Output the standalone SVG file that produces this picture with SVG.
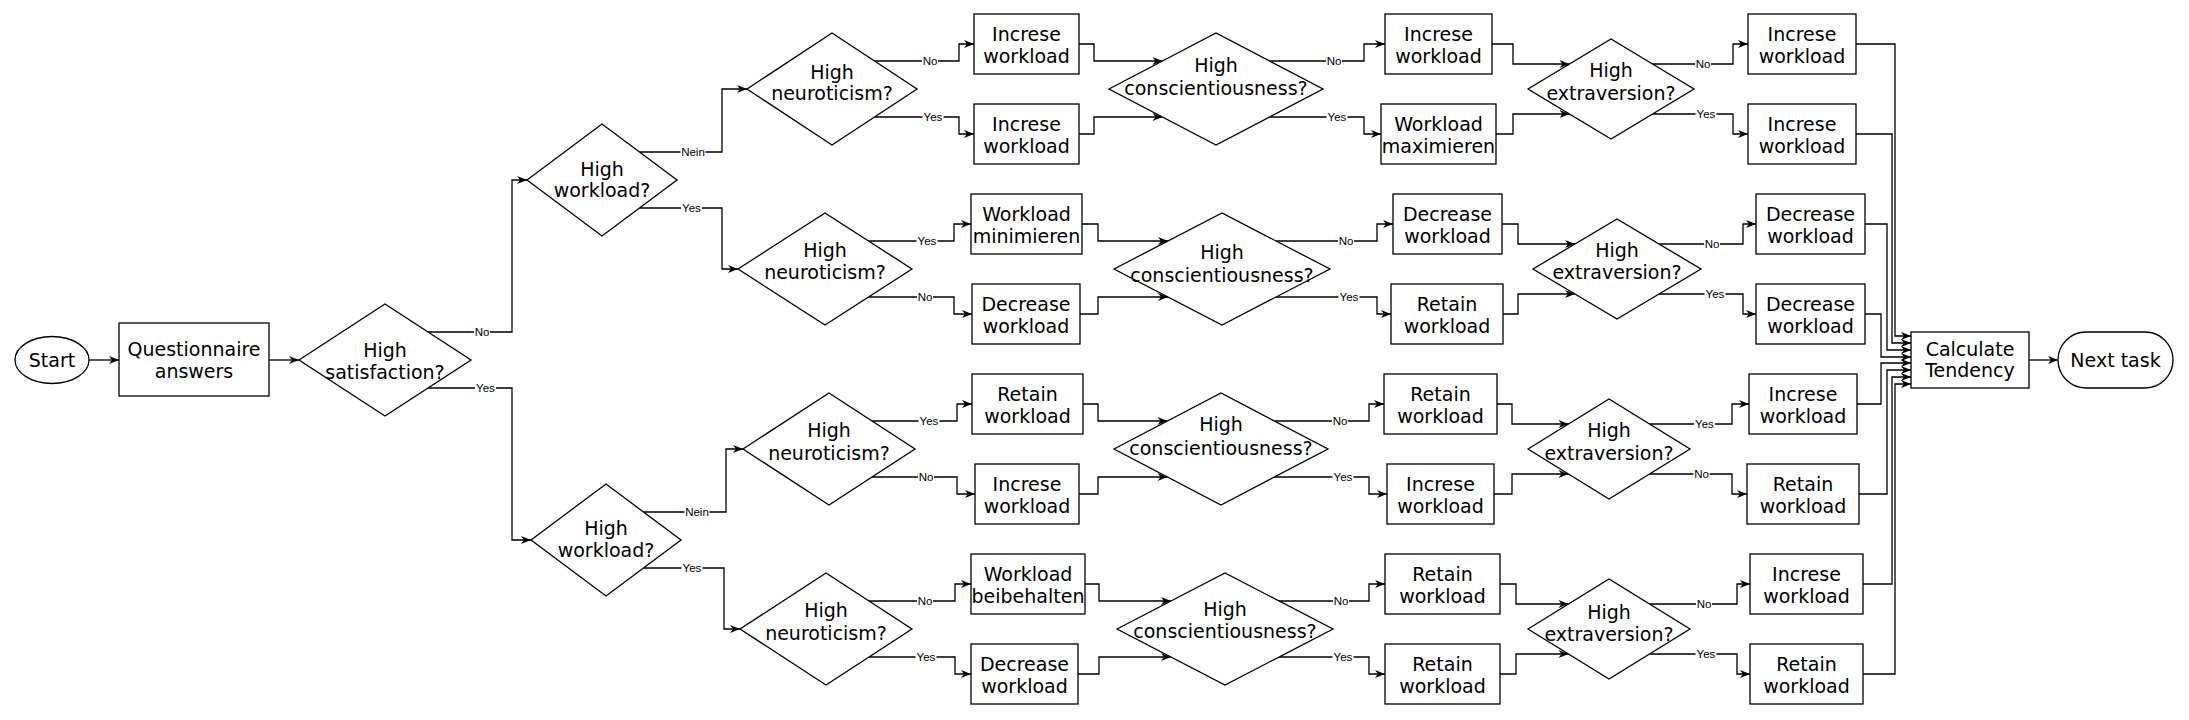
<svg xmlns="http://www.w3.org/2000/svg" width="2189" height="720" viewBox="0 0 2189 720">
<style>
.s{fill:#fff;stroke:#000;stroke-width:1.3}
.t{font-family:"DejaVu Sans",Verdana,sans-serif;font-size:19px;fill:#000;text-anchor:middle}
.c{fill:none;stroke:#000;stroke-width:1.3;marker-end:url(#arr)}
.l{font-family:"Liberation Sans",Arial,sans-serif;font-size:11.5px;fill:#000;text-anchor:middle}
.lb{fill:#fff;stroke:none}
</style>
<defs>
<marker id="arr" viewBox="0 0 10 8" refX="10" refY="4" markerWidth="11" markerHeight="8" markerUnits="userSpaceOnUse" orient="auto"><path d="M0,0 L10,4 L0,8 L3,4 Z" fill="#000"/></marker>
</defs>
<rect width="2189" height="720" fill="#fff"/>
<g id="connectors">
<path class="c" d="M89,360 H119"/>
<path class="c" d="M269,360 H299"/>
<path class="c" d="M2029,360 H2058"/>
<path class="c" d="M428,332 H512 V180 H527"/>
<path class="c" d="M428,388 H512 V540 H531"/>
<path class="c" d="M639.5,152 H722 V89 H747"/>
<path class="c" d="M639.5,208 H722 V269 H738"/>
<path class="c" d="M874.5,61 H959 V44 H974"/>
<path class="c" d="M874.5,117 H959 V134 H974"/>
<path class="c" d="M1079,44 H1094 V61 H1162.5"/>
<path class="c" d="M1079,134 H1094 V117 H1162.5"/>
<path class="c" d="M1269.5,61 H1364 V44 H1385"/>
<path class="c" d="M1269.5,117 H1364 V134 H1381"/>
<path class="c" d="M1492,44 H1513 V64 H1569.5"/>
<path class="c" d="M1496,134 H1513 V114 H1569.5"/>
<path class="c" d="M1652.5,64 H1733 V44 H1748"/>
<path class="c" d="M1652.5,114 H1733 V134 H1748"/>
<path class="c" d="M868.5,241 H954 V224 H971"/>
<path class="c" d="M868.5,297 H954 V314 H972"/>
<path class="c" d="M1082,224 H1098 V241 H1168"/>
<path class="c" d="M1080,314 H1098 V297 H1168"/>
<path class="c" d="M1276,241 H1377 V224 H1393"/>
<path class="c" d="M1276,297 H1377 V314 H1391"/>
<path class="c" d="M1502,224 H1518 V244 H1575"/>
<path class="c" d="M1503,314 H1518 V294 H1575"/>
<path class="c" d="M1659,244 H1743 V224 H1756"/>
<path class="c" d="M1659,294 H1743 V314 H1756"/>
<path class="c" d="M643.5,512 H726 V449 H743"/>
<path class="c" d="M872,421 H957 V404 H972"/>
<path class="c" d="M872,477 H957 V494 H975"/>
<path class="c" d="M1083,404 H1098 V421 H1167.5"/>
<path class="c" d="M1079,494 H1098 V477 H1167.5"/>
<path class="c" d="M1274.5,421 H1369 V404 H1384"/>
<path class="c" d="M1274.5,477 H1369 V494 H1387"/>
<path class="c" d="M1497,404 H1512 V424 H1568.5"/>
<path class="c" d="M1494,494 H1512 V474 H1568.5"/>
<path class="c" d="M1649.5,424 H1732 V404 H1749"/>
<path class="c" d="M1649.5,474 H1732 V494 H1747"/>
<path class="c" d="M643.5,568 H724 V629 H740"/>
<path class="c" d="M869,601 H955 V584 H971"/>
<path class="c" d="M869,657 H955 V674 H971"/>
<path class="c" d="M1085,584 H1099 V601 H1171"/>
<path class="c" d="M1078,674 H1099 V657 H1171"/>
<path class="c" d="M1279,601 H1369 V584 H1385"/>
<path class="c" d="M1279,657 H1369 V674 H1385"/>
<path class="c" d="M1500,584 H1516 V604 H1568.5"/>
<path class="c" d="M1500,674 H1516 V654 H1568.5"/>
<path class="c" d="M1649.5,604 H1737 V584 H1750"/>
<path class="c" d="M1649.5,654 H1737 V674 H1750"/>
<path class="c" d="M1856,44 H1895 V336 H1911"/>
<path class="c" d="M1856,134 H1892 V343 H1911"/>
<path class="c" d="M1865,224 H1887 V350 H1911"/>
<path class="c" d="M1865,314 H1881 V357 H1911"/>
<path class="c" d="M1857,404 H1881 V363 H1911"/>
<path class="c" d="M1859,494 H1887 V370 H1911"/>
<path class="c" d="M1863,584 H1892 V377 H1911"/>
<path class="c" d="M1863,674 H1895 V384 H1911"/>
<g id="edge-labels">
<rect class="lb" x="474" y="326" width="16" height="12"/><text class="l" x="482" y="336">No</text>
<rect class="lb" x="475" y="382" width="21" height="12"/><text class="l" x="485.5" y="392">Yes</text>
<rect class="lb" x="680.5" y="146" width="25" height="12"/><text class="l" x="693" y="156">Nein</text>
<rect class="lb" x="681" y="202" width="21" height="12"/><text class="l" x="691.5" y="212">Yes</text>
<rect class="lb" x="922" y="55" width="16" height="12"/><text class="l" x="930" y="65">No</text>
<rect class="lb" x="922.5" y="111" width="21" height="12"/><text class="l" x="933" y="121">Yes</text>
<rect class="lb" x="1326" y="55" width="16" height="12"/><text class="l" x="1334" y="65">No</text>
<rect class="lb" x="1326.5" y="111" width="21" height="12"/><text class="l" x="1337" y="121">Yes</text>
<rect class="lb" x="1695" y="58" width="16" height="12"/><text class="l" x="1703" y="68">No</text>
<rect class="lb" x="1695.5" y="108" width="21" height="12"/><text class="l" x="1706" y="118">Yes</text>
<rect class="lb" x="916.5" y="235" width="21" height="12"/><text class="l" x="927" y="245">Yes</text>
<rect class="lb" x="917" y="291" width="16" height="12"/><text class="l" x="925" y="301">No</text>
<rect class="lb" x="1338" y="235" width="16" height="12"/><text class="l" x="1346" y="245">No</text>
<rect class="lb" x="1338.5" y="291" width="21" height="12"/><text class="l" x="1349" y="301">Yes</text>
<rect class="lb" x="1704" y="238" width="16" height="12"/><text class="l" x="1712" y="248">No</text>
<rect class="lb" x="1704.5" y="288" width="21" height="12"/><text class="l" x="1715" y="298">Yes</text>
<rect class="lb" x="684.5" y="506" width="25" height="12"/><text class="l" x="697" y="516">Nein</text>
<rect class="lb" x="681.5" y="562" width="21" height="12"/><text class="l" x="692" y="572">Yes</text>
<rect class="lb" x="918.5" y="415" width="21" height="12"/><text class="l" x="929" y="425">Yes</text>
<rect class="lb" x="918" y="471" width="16" height="12"/><text class="l" x="926" y="481">No</text>
<rect class="lb" x="1332" y="415" width="16" height="12"/><text class="l" x="1340" y="425">No</text>
<rect class="lb" x="1332.5" y="471" width="21" height="12"/><text class="l" x="1343" y="481">Yes</text>
<rect class="lb" x="1694" y="418" width="21" height="12"/><text class="l" x="1704.5" y="428">Yes</text>
<rect class="lb" x="1693.5" y="468" width="16" height="12"/><text class="l" x="1701.5" y="478">No</text>
<rect class="lb" x="917" y="595" width="16" height="12"/><text class="l" x="925" y="605">No</text>
<rect class="lb" x="915.5" y="651" width="21" height="12"/><text class="l" x="926" y="661">Yes</text>
<rect class="lb" x="1333" y="595" width="16" height="12"/><text class="l" x="1341" y="605">No</text>
<rect class="lb" x="1332.5" y="651" width="21" height="12"/><text class="l" x="1343" y="661">Yes</text>
<rect class="lb" x="1696" y="598" width="16" height="12"/><text class="l" x="1704" y="608">No</text>
<rect class="lb" x="1695.5" y="648" width="21" height="12"/><text class="l" x="1706" y="658">Yes</text>
</g>
</g>
<g id="start"><ellipse class="s" cx="52" cy="360" rx="37" ry="23.5"/><text class="t" x="52" y="367">Start</text></g>
<g id="questionnaire"><rect class="s" x="119" y="323" width="150" height="73"/><text class="t" x="194" y="356">Questionnaire</text><text class="t" x="194" y="378">answers</text></g>
<g id="d-satisfaction"><polygon class="s" points="299,360 385,304 471,360 385,416"/><text class="t" x="385" y="357">High</text><text class="t" x="385" y="379">satisfaction?</text></g>
<g id="d-workload1"><polygon class="s" points="527,180 602,124 677,180 602,236"/><text class="t" x="602" y="176">High</text><text class="t" x="602" y="197">workload?</text></g>
<g id="d-workload2"><polygon class="s" points="531,540 606,484 681,540 606,596"/><text class="t" x="606" y="535">High</text><text class="t" x="606" y="557">workload?</text></g>
<g id="d-neuro1"><polygon class="s" points="747,89 832,33 917,89 832,145"/><text class="t" x="832" y="79">High</text><text class="t" x="832" y="100">neuroticism?</text></g>
<g id="d-neuro2"><polygon class="s" points="738,269 825,213 912,269 825,325"/><text class="t" x="825" y="257">High</text><text class="t" x="825" y="279">neuroticism?</text></g>
<g id="d-neuro3"><polygon class="s" points="743,449 829,393 915,449 829,505"/><text class="t" x="829" y="437">High</text><text class="t" x="829" y="460">neuroticism?</text></g>
<g id="d-neuro4"><polygon class="s" points="740,629 826,573 912,629 826,685"/><text class="t" x="826" y="617">High</text><text class="t" x="826" y="640">neuroticism?</text></g>
<g id="d-consc1"><polygon class="s" points="1109,89 1216,33 1323,89 1216,145"/><text class="t" x="1216" y="72">High</text><text class="t" x="1216" y="95">conscientiousness?</text></g>
<g id="d-consc2"><polygon class="s" points="1114,269 1222,213 1330,269 1222,325"/><text class="t" x="1222" y="259">High</text><text class="t" x="1222" y="282">conscientiousness?</text></g>
<g id="d-consc3"><polygon class="s" points="1114,449 1221,393 1328,449 1221,505"/><text class="t" x="1221" y="431">High</text><text class="t" x="1221" y="455">conscientiousness?</text></g>
<g id="d-consc4"><polygon class="s" points="1117,629 1225,573 1333,629 1225,685"/><text class="t" x="1225" y="616">High</text><text class="t" x="1225" y="638">conscientiousness?</text></g>
<g id="d-extra1"><polygon class="s" points="1528,89 1611,39 1694,89 1611,139"/><text class="t" x="1611" y="77">High</text><text class="t" x="1611" y="100">extraversion?</text></g>
<g id="d-extra2"><polygon class="s" points="1533,269 1617,219 1701,269 1617,319"/><text class="t" x="1617" y="257">High</text><text class="t" x="1617" y="279">extraversion?</text></g>
<g id="d-extra3"><polygon class="s" points="1528,449 1609,399 1690,449 1609,499"/><text class="t" x="1609" y="437">High</text><text class="t" x="1609" y="460">extraversion?</text></g>
<g id="d-extra4"><polygon class="s" points="1528,629 1609,579 1690,629 1609,679"/><text class="t" x="1609" y="619">High</text><text class="t" x="1609" y="641">extraversion?</text></g>
<g id="b1a"><rect class="s" x="974" y="14" width="105" height="60"/><text class="t" x="1026.5" y="41">Increse</text><text class="t" x="1026.5" y="63">workload</text></g>
<g id="b1b"><rect class="s" x="974" y="104" width="105" height="60"/><text class="t" x="1026.5" y="131">Increse</text><text class="t" x="1026.5" y="153">workload</text></g>
<g id="b1c"><rect class="s" x="1385" y="14" width="107" height="60"/><text class="t" x="1438.5" y="41">Increse</text><text class="t" x="1438.5" y="63">workload</text></g>
<g id="b1d"><rect class="s" x="1381" y="104" width="115" height="60"/><text class="t" x="1438.5" y="131">Workload</text><text class="t" x="1438.5" y="153">maximieren</text></g>
<g id="b1e"><rect class="s" x="1748" y="14" width="108" height="60"/><text class="t" x="1802" y="41">Increse</text><text class="t" x="1802" y="63">workload</text></g>
<g id="b1f"><rect class="s" x="1748" y="104" width="108" height="60"/><text class="t" x="1802" y="131">Increse</text><text class="t" x="1802" y="153">workload</text></g>
<g id="b2a"><rect class="s" x="971" y="194" width="111" height="60"/><text class="t" x="1026.5" y="221">Workload</text><text class="t" x="1026.5" y="243">minimieren</text></g>
<g id="b2b"><rect class="s" x="972" y="284" width="108" height="60"/><text class="t" x="1026" y="311">Decrease</text><text class="t" x="1026" y="333">workload</text></g>
<g id="b2c"><rect class="s" x="1393" y="194" width="109" height="60"/><text class="t" x="1447.5" y="221">Decrease</text><text class="t" x="1447.5" y="243">workload</text></g>
<g id="b2d"><rect class="s" x="1391" y="284" width="112" height="60"/><text class="t" x="1447" y="311">Retain</text><text class="t" x="1447" y="333">workload</text></g>
<g id="b2e"><rect class="s" x="1756" y="194" width="109" height="60"/><text class="t" x="1810.5" y="221">Decrease</text><text class="t" x="1810.5" y="243">workload</text></g>
<g id="b2f"><rect class="s" x="1756" y="284" width="109" height="60"/><text class="t" x="1810.5" y="311">Decrease</text><text class="t" x="1810.5" y="333">workload</text></g>
<g id="b3a"><rect class="s" x="972" y="374" width="111" height="60"/><text class="t" x="1027.5" y="401">Retain</text><text class="t" x="1027.5" y="423">workload</text></g>
<g id="b3b"><rect class="s" x="975" y="464" width="104" height="60"/><text class="t" x="1027" y="491">Increse</text><text class="t" x="1027" y="513">workload</text></g>
<g id="b3c"><rect class="s" x="1384" y="374" width="113" height="60"/><text class="t" x="1440.5" y="401">Retain</text><text class="t" x="1440.5" y="423">workload</text></g>
<g id="b3d"><rect class="s" x="1387" y="464" width="107" height="60"/><text class="t" x="1440.5" y="491">Increse</text><text class="t" x="1440.5" y="513">workload</text></g>
<g id="b3e"><rect class="s" x="1749" y="374" width="108" height="60"/><text class="t" x="1803" y="401">Increse</text><text class="t" x="1803" y="423">workload</text></g>
<g id="b3f"><rect class="s" x="1747" y="464" width="112" height="60"/><text class="t" x="1803" y="491">Retain</text><text class="t" x="1803" y="513">workload</text></g>
<g id="b4a"><rect class="s" x="971" y="554" width="114" height="60"/><text class="t" x="1028" y="581">Workload</text><text class="t" x="1028" y="603">beibehalten</text></g>
<g id="b4b"><rect class="s" x="971" y="644" width="107" height="60"/><text class="t" x="1024.5" y="671">Decrease</text><text class="t" x="1024.5" y="693">workload</text></g>
<g id="b4c"><rect class="s" x="1385" y="554" width="115" height="60"/><text class="t" x="1442.5" y="581">Retain</text><text class="t" x="1442.5" y="603">workload</text></g>
<g id="b4d"><rect class="s" x="1385" y="644" width="115" height="60"/><text class="t" x="1442.5" y="671">Retain</text><text class="t" x="1442.5" y="693">workload</text></g>
<g id="b4e"><rect class="s" x="1750" y="554" width="113" height="60"/><text class="t" x="1806.5" y="581">Increse</text><text class="t" x="1806.5" y="603">workload</text></g>
<g id="b4f"><rect class="s" x="1750" y="644" width="113" height="60"/><text class="t" x="1806.5" y="671">Retain</text><text class="t" x="1806.5" y="693">workload</text></g>
<g id="calculate"><rect class="s" x="1911" y="332" width="118" height="56"/><text class="t" x="1970" y="356">Calculate</text><text class="t" x="1970" y="377">Tendency</text></g>
<g id="next-task"><rect class="s" x="2058" y="332" width="115" height="56" rx="28" ry="28"/><text class="t" x="2115.5" y="367">Next task</text></g>
</svg>
